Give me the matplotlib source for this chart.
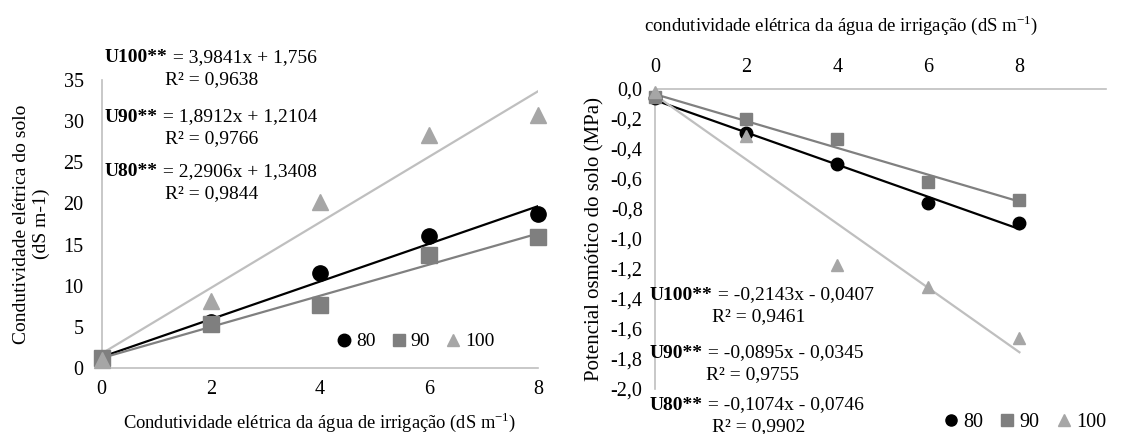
import numpy as np
import matplotlib.pyplot as plt
from matplotlib.lines import Line2D

plt.rcParams['font.family'] = ['Liberation Serif', 'DejaVu Serif']

# irrigation water EC levels
x_vals = [0, 2, 4, 6, 8]
series = ['80', '90', '100']

# left: soil EC (dS m-1)
ce_80 = [1.2, 5.6, 11.5, 16.0, 18.7]
ce_90 = [1.2, 5.4, 7.7, 13.7, 15.9]
ce_100 = [1.0, 8.2, 20.2, 28.3, 30.8]
ce_coef = {'80': (2.2906, 1.3408), '90': (1.8912, 1.2104), '100': (3.9841, 1.756)}
ce_r2 = {'80': '0,9844', '90': '0,9766', '100': '0,9638'}
ce_eq = {'80': '2,2906x + 1,3408', '90': '1,8912x + 1,2104', '100': '3,9841x + 1,756'}

# right: osmotic potential (MPa)
po_80 = [-0.06, -0.29, -0.50, -0.76, -0.89]
po_90 = [-0.05, -0.20, -0.33, -0.62, -0.74]
po_100 = [-0.02, -0.31, -1.17, -1.32, -1.66]
po_coef = {'80': (-0.1074, -0.0746), '90': (-0.0895, -0.0345), '100': (-0.2143, -0.0407)}
po_r2 = {'80': '0,9902', '90': '0,9755', '100': '0,9461'}
po_eq = {'80': '-0,1074x - 0,0746', '90': '-0,0895x - 0,0345', '100': '-0,2143x - 0,0407'}

mk = {'80': 'o', '90': 's', '100': '^'}
mcol = {'80': 'black', '90': '#7f7f7f', '100': '#a6a6a6'}
lcol = {'80': 'black', '90': '#808080', '100': '#bfbfbf'}
axcol = '#bfbfbf'

fig = plt.figure(figsize=[11.24, 4.34], dpi=100)

def eq_text(fig, x, y, name, eq, r2, rx):
    t = fig.text(x / 1124, 1 - y / 434, 'U' + name + '**', fontsize=14, fontweight='bold', va='center')
    plt.annotate(' = ' + eq, xy=(1, 0.5), xycoords=t, va='center', fontsize=14)
    fig.text(rx / 1124, 1 - (y + 22) / 434, 'R² = ' + r2, fontsize=14, va='center')

# ---- left chart
ax1 = fig.add_axes([101.7 / 1124, 1 - 368 / 434, (538 - 101.7) / 1124, (368 - 80) / 434])
xx = np.array([0, 8])
for s in series:
    a, b = ce_coef[s]
    ax1.plot(xx, a * xx + b, color=lcol[s], lw=1.6, zorder=2)
for s, ys in zip(series, [ce_80, ce_90, ce_100]):
    ax1.plot(x_vals, ys, linestyle='None', marker=mk[s], ms=11, color=mcol[s], zorder=3, clip_on=False)
ax1.set_xlim(0, 8)
ax1.set_ylim(0, 35)
ax1.set_xticks([0, 2, 4, 6, 8])
ax1.set_yticks(range(0, 36, 5))
ax1.tick_params(length=0, labelsize=14.5, pad=9)
ax1.tick_params(axis='y', pad=13)
for sp in ['top', 'right']:
    ax1.spines[sp].set_visible(False)
for sp in ['left', 'bottom']:
    ax1.spines[sp].set_color(axcol)
    ax1.spines[sp].set_linewidth(1.2)
ax1.set_xlabel('Condutividade elétrica da água de irrigação (dS m$^{\\mathregular{-1}}$)', fontsize=13.3, labelpad=8)
ax1.set_ylabel('Condutividade elétrica do solo\n(dS m-1)', fontsize=14, labelpad=10)
handles = [Line2D([], [], linestyle='None', marker=mk[s], color=mcol[s], ms=9) for s in series]
ax1.legend(handles, series, loc='lower right', ncol=3, frameon=False, fontsize=14,
           handletextpad=0.0, columnspacing=0.6, handlelength=1.2, bbox_to_anchor=(0.94, 0.0))

eq_text(fig, 105, 58, '100', ce_eq['100'], ce_r2['100'], 165)
eq_text(fig, 105, 117, '90', ce_eq['90'], ce_r2['90'], 165)
eq_text(fig, 105, 172, '80', ce_eq['80'], ce_r2['80'], 165)

# ---- right chart
ax2 = fig.add_axes([655 / 1124, 1 - 389 / 434, (1106 - 655) / 1124, (389 - 89) / 434])
for s in series:
    a, b = po_coef[s]
    ax2.plot(xx, a * xx + b, color=lcol[s], lw=1.6, zorder=2)
for s, ys in zip(series, [po_80, po_90, po_100]):
    ax2.plot(x_vals, ys, linestyle='None', marker=mk[s], ms=9, color=mcol[s], zorder=3, clip_on=False)
ax2.set_xlim(0, 9.9)
ax2.set_ylim(-2.0, 0)
ax2.set_xticks([0, 2, 4, 6, 8])
yt = np.arange(-2.0, 0.01, 0.2)
ax2.set_yticks(yt)
ax2.set_yticklabels([('%.1f' % v).replace('.', ',').replace('-0,0', '0,0') for v in yt])
ax2.xaxis.tick_top()
ax2.tick_params(length=0, labelsize=14.5, pad=9)
for sp in ['bottom', 'right']:
    ax2.spines[sp].set_visible(False)
for sp in ['left', 'top']:
    ax2.spines[sp].set_color(axcol)
    ax2.spines[sp].set_linewidth(1.2)
ax2.set_ylabel('Potencial osmótico do solo (MPa)', fontsize=15, labelpad=4)
fig.text(841 / 1124, 1 - 25 / 434, 'condutividade elétrica da água de irrigação (dS m$^{\\mathregular{-1}}$)',
         fontsize=13.5, ha='center', va='center')
handles2 = [Line2D([], [], linestyle='None', marker=mk[s], color=mcol[s], ms=8) for s in series]
fig.legend(handles2, series, loc='center right', ncol=3, frameon=False, fontsize=14.5,
           handletextpad=0.0, columnspacing=0.6, handlelength=1.2, bbox_to_anchor=(1.0, 1 - 422 / 434))

eq_text(fig, 650, 295, '100', po_eq['100'], po_r2['100'], 712)
eq_text(fig, 650, 353, '90', po_eq['90'], po_r2['90'], 706)
eq_text(fig, 650, 405, '80', po_eq['80'], po_r2['80'], 712)

fig.savefig('out.png', dpi=100)
